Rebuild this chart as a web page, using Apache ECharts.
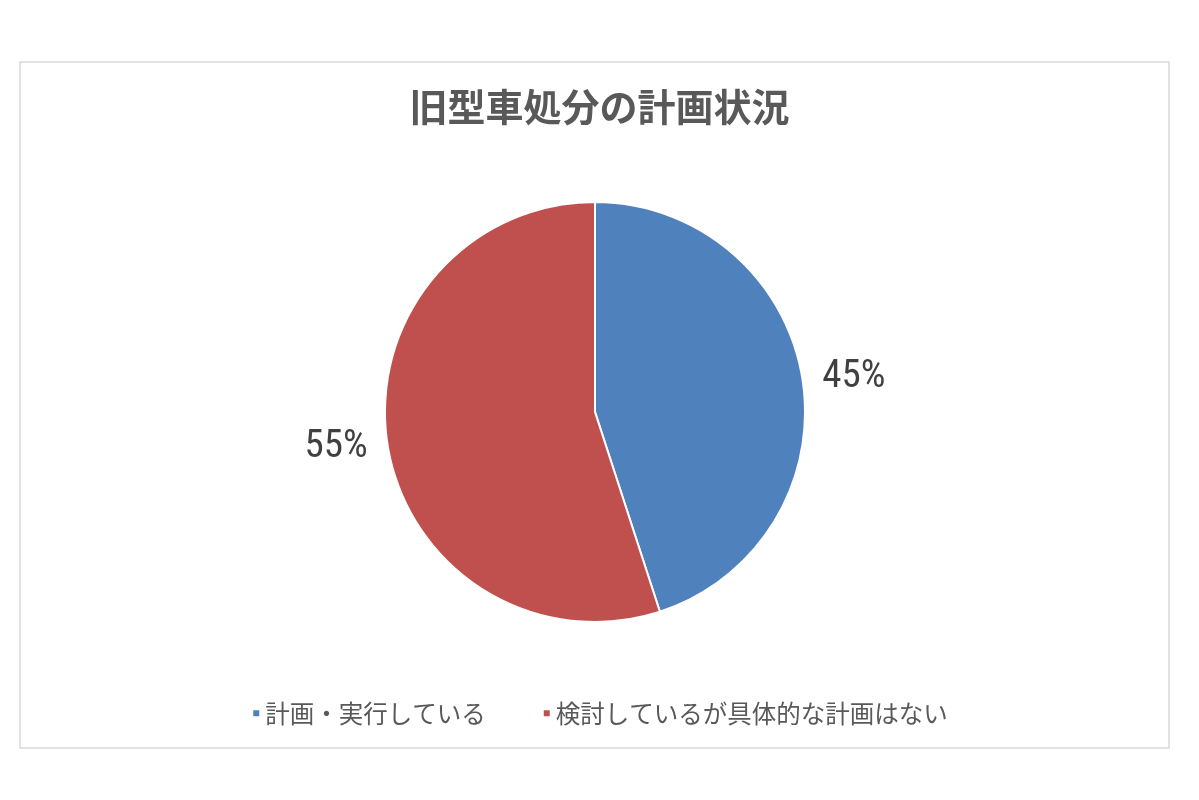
<!DOCTYPE html>
<html>
<head>
<meta charset="utf-8">
<script src="https://cdn.jsdelivr.net/npm/echarts@6/dist/echarts.min.js"></script>
<style>
  html, body { margin: 0; padding: 0; background: #fff; }
  #chart { width: 1199px; height: 800px; }
</style>
</head>
<body>
<div id="chart"></div>
<script>
// data
const categories = ["計画・実行している", "検討しているが具体的な計画はない"];
const shares = [45, 55];
const sliceColors = ["#4f81bd", "#c0504d"];

let chart = echarts.init(document.getElementById("chart"));

let option = {
  animation: false,
  title: {
    text: "旧型車処分の計画状況",
    left: "center",
    top: 83,
    textStyle: {
      fontFamily: "Noto Sans CJK JP",
      fontSize: 38,
      fontWeight: "bold",
      color: "#595959"
    }
  },
  graphic: [{
    type: "rect",
    shape: { x: 20, y: 62, width: 1149, height: 686 },
    style: { fill: "none", stroke: "#d9d9d9", lineWidth: 1.5 },
    silent: true
  }],
  legend: {
    left: "center",
    top: 696,
    icon: "rect",
    itemWidth: 8,
    itemHeight: 8,
    itemGap: 56,
    textStyle: {
      fontFamily: "Noto Sans CJK JP",
      fontSize: 24.5,
      color: "#595959"
    },
    data: categories
  },
  series: [{
    name: "旧型車処分",
    type: "pie",
    center: [595, 412],
    radius: 210,
    startAngle: 90,
    clockwise: true,
    color: sliceColors,
    itemStyle: { borderColor: "#fff", borderWidth: 2 },
    label: {
      show: true,
      position: "outside",
      formatter: "{c}%",
      fontFamily: "Liberation Sans Narrow, Roboto Condensed, Liberation Sans",
      fontSize: 39,
      color: "#404040"
    },
    labelLine: { show: false, length: 15, length2: 0 },
    data: categories.map(function (name, i) {
      return { name: name, value: shares[i] };
    })
  }]
};

chart.setOption(option, true);
</script>
</body>
</html>
